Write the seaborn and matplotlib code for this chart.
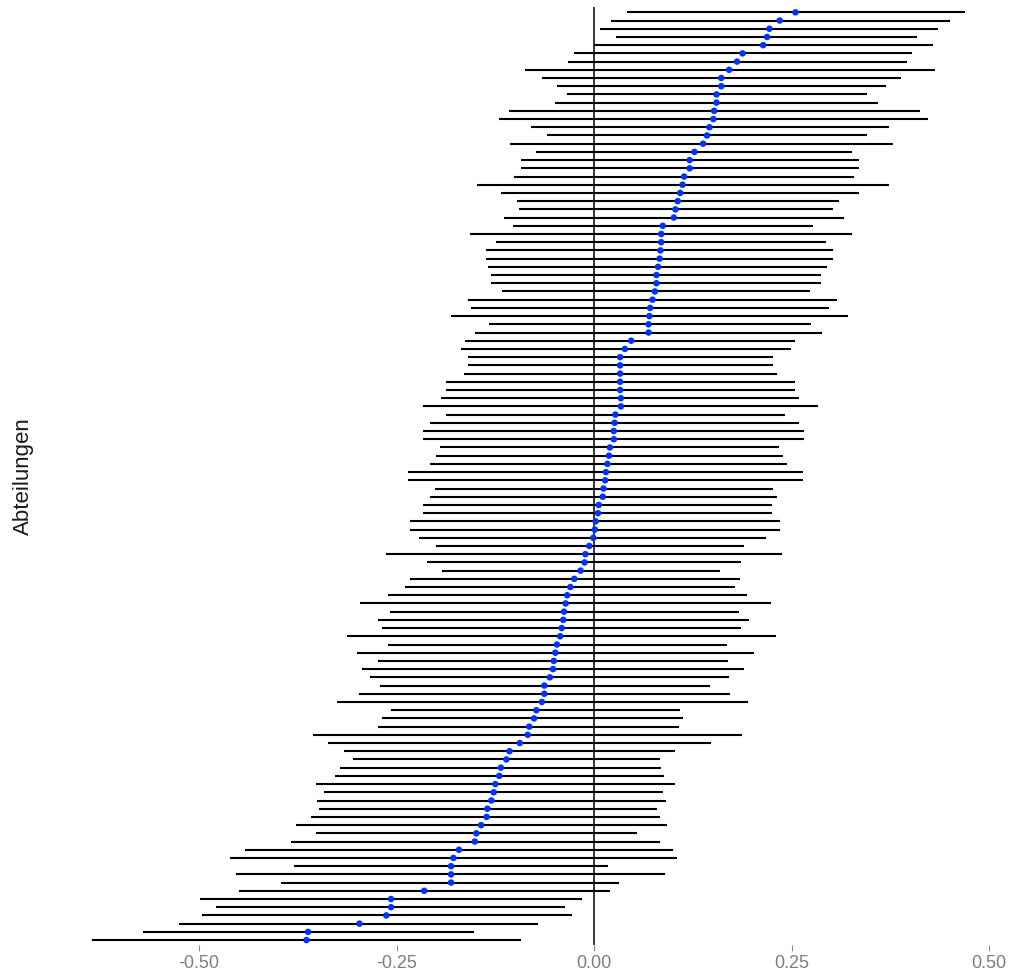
import numpy as np
import pandas as pd
import matplotlib
matplotlib.use("Agg")
import matplotlib.pyplot as plt
import seaborn as sns

# Schätzer je Abteilung (von oben nach unten sortiert) mit Intervallgrenzen
est = [
    0.255, 0.235, 0.222, 0.219, 0.214, 0.188, 0.181, 0.171, 0.161, 0.161,
    0.155, 0.155, 0.152, 0.151, 0.146, 0.143, 0.138, 0.127, 0.121, 0.121,
    0.114, 0.112, 0.109, 0.106, 0.103, 0.101, 0.087, 0.085, 0.085, 0.084,
    0.083, 0.081, 0.079, 0.079, 0.077, 0.074, 0.071, 0.070, 0.069, 0.069,
    0.047, 0.039, 0.033, 0.033, 0.033, 0.033, 0.033, 0.034, 0.034, 0.027,
    0.026, 0.025, 0.025, 0.020, 0.019, 0.017, 0.015, 0.014, 0.012, 0.011,
    0.006, 0.005, 0.002, 0.001, -0.001, -0.006, -0.011, -0.012, -0.017, -0.025,
    -0.030, -0.034, -0.036, -0.038, -0.039, -0.041, -0.043, -0.047, -0.049, -0.051,
    -0.052, -0.056, -0.063, -0.063, -0.066, -0.073, -0.076, -0.082, -0.084, -0.094,
    -0.107, -0.111, -0.118, -0.120, -0.125, -0.127, -0.130, -0.135, -0.136, -0.143,
    -0.149, -0.151, -0.171, -0.178, -0.181, -0.181, -0.181, -0.215, -0.257, -0.257,
    -0.263, -0.297, -0.362, -0.364,
]

lower = [
    0.042, 0.021, 0.007, 0.028, 0.000, -0.026, -0.033, -0.087, -0.066, -0.047,
    -0.034, -0.049, -0.108, -0.120, -0.080, -0.060, -0.106, -0.073, -0.093, -0.093,
    -0.101, -0.148, -0.118, -0.097, -0.095, -0.114, -0.103, -0.157, -0.124, -0.137,
    -0.137, -0.134, -0.130, -0.130, -0.117, -0.160, -0.156, -0.181, -0.133, -0.151,
    -0.163, -0.169, -0.160, -0.160, -0.165, -0.187, -0.187, -0.194, -0.217, -0.187,
    -0.208, -0.216, -0.216, -0.195, -0.200, -0.208, -0.235, -0.235, -0.201, -0.208,
    -0.216, -0.216, -0.233, -0.233, -0.222, -0.200, -0.263, -0.211, -0.192, -0.233,
    -0.239, -0.261, -0.296, -0.258, -0.273, -0.269, -0.313, -0.261, -0.300, -0.273,
    -0.294, -0.283, -0.271, -0.297, -0.326, -0.257, -0.268, -0.273, -0.356, -0.337,
    -0.316, -0.305, -0.321, -0.328, -0.352, -0.342, -0.351, -0.348, -0.358, -0.377,
    -0.352, -0.384, -0.442, -0.461, -0.380, -0.453, -0.396, -0.449, -0.499, -0.478,
    -0.496, -0.525, -0.571, -0.635,
]

upper = [
    0.469, 0.450, 0.435, 0.409, 0.429, 0.402, 0.396, 0.432, 0.388, 0.370,
    0.345, 0.359, 0.413, 0.423, 0.373, 0.346, 0.378, 0.326, 0.335, 0.335,
    0.329, 0.373, 0.335, 0.310, 0.302, 0.316, 0.277, 0.326, 0.293, 0.303,
    0.303, 0.295, 0.287, 0.287, 0.273, 0.307, 0.298, 0.321, 0.274, 0.289,
    0.255, 0.249, 0.227, 0.227, 0.232, 0.254, 0.254, 0.260, 0.284, 0.242,
    0.259, 0.266, 0.266, 0.234, 0.239, 0.244, 0.265, 0.265, 0.227, 0.232,
    0.225, 0.225, 0.235, 0.235, 0.218, 0.190, 0.238, 0.186, 0.160, 0.185,
    0.179, 0.193, 0.224, 0.183, 0.196, 0.186, 0.230, 0.168, 0.202, 0.169,
    0.190, 0.171, 0.147, 0.172, 0.195, 0.109, 0.113, 0.108, 0.187, 0.148,
    0.102, 0.084, 0.085, 0.089, 0.102, 0.087, 0.091, 0.080, 0.084, 0.092,
    0.055, 0.084, 0.100, 0.105, 0.018, 0.090, 0.032, 0.020, -0.015, -0.037,
    -0.028, -0.071, -0.152, -0.092,
]

x_ticks = [-0.50, -0.25, 0.00, 0.25, 0.50]
x_ticklabels = ["-0.50", "-0.25", "0.00", "0.25", "0.50"]

df = pd.DataFrame({"est": est, "lower": lower, "upper": upper})
df["rang"] = np.arange(len(df))

sns.set_theme(style="white")
plt.rcParams["font.family"] = ["Liberation Sans", "DejaVu Sans"]

fig, ax = plt.subplots(figsize=(10.10, 9.73), dpi=100)
fig.subplots_adjust(left=45 / 1010, right=1008 / 1010,
                    top=1 - 7.4 / 973, bottom=1 - 945 / 973)

ax.axvline(0, color="black", lw=1.1, zorder=1)
ax.hlines(df["rang"], df["lower"], df["upper"], color="black", lw=1.5, zorder=2)
sns.scatterplot(data=df, x="est", y="rang", color="#0033ff", s=22,
                edgecolor="none", linewidth=0, zorder=3, ax=ax)

ax.set_xlim(-0.695, 0.524)
ax.set_ylim(len(df) - 0.4, -0.6)

ax.set_xticks(x_ticks)
ax.set_xticklabels(x_ticklabels)
ax.set_yticks([])
ax.tick_params(axis="x", bottom=True, length=4, width=0.8, color="#8c8c8c",
               labelsize=13, labelcolor="#7f7f7f", pad=3)

ax.set_xlabel("")
ax.set_ylabel("Abteilungen", fontsize=16, color="#1a1a1a", labelpad=8)

for s in ax.spines.values():
    s.set_visible(False)

fig.savefig("out.png", dpi=100, facecolor="white")
